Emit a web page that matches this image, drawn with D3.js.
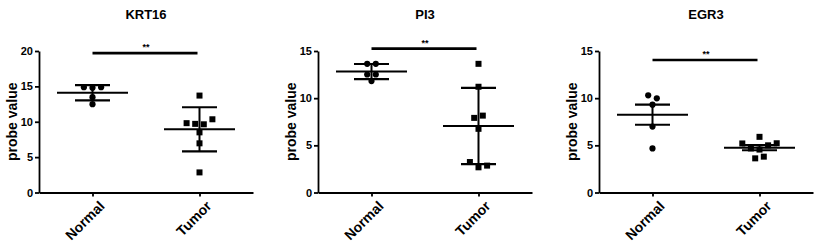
<!DOCTYPE html>
<html lang="en">
<head>
<meta charset="UTF-8">
<title>Probe values</title>
<script src="https://d3js.org/d3.v7.min.js"></script>
<style>
  body { margin: 0; padding: 0; background: #fff; }
  svg { display: block; font-family: "Liberation Sans", Arial, sans-serif; }
  .axis path, .axis line { stroke: #000; stroke-width: 1.8; }
  .axis text { font-size: 11px; font-weight: bold; fill: #000; }
</style>
</head>
<body>
<svg id="chart" width="818" height="245"></svg>
<script>
// values
const groups = ["Normal", "Tumor"];
const titles = ["KRT16", "PI3", "EGR3"];
const yMax = [20, 15, 15];
const yTicks = [[0, 5, 10, 15, 20], [0, 5, 10, 15], [0, 5, 10, 15]];

const krt16Normal = [14.88, 14.8, 14.88, 12.48, 13.47];
const krt16Tumor = [13.7, 9.8, 9.7, 9.64, 10.35, 8.5, 6.95, 2.84];
const pi3Normal = [13.64, 13.64, 12.51, 11.81, 12.51];
const pi3Tumor = [13.64, 11.21, 7.91, 8.15, 6.75, 3.23, 2.67, 2.85];
const egr3Normal = [10.3, 9.98, 9.31, 6.99, 4.67];
const egr3Tumor = [5.2, 4.67, 4.55, 5.0, 5.22, 5.9, 3.62, 3.8];

const errorKind = ["SD", "SD", "SEM"];
const sigLevel = [19.7, 15.25, 14.05];
const sigLabel = ["**", "**", "**"];

const panelData = [
  [krt16Normal, krt16Tumor],
  [pi3Normal, pi3Tumor],
  [egr3Normal, egr3Tumor]
];

const svg = d3.select("#chart");
const panelLeft = [39, 318, 599];
const plotTop = 51, plotBottom = 192.5, plotW = 214;
const slot = 8.6, rowGap = 5.5;

// GraphPad-like scatter: values close in height share a row and spread sideways
function swarm(values, y) {
  const order = d3.range(values.length).sort((a, b) => values[b] - values[a]);
  const rows = [];
  let cur = null, lastY = null;
  order.forEach(i => {
    const py = y(values[i]);
    if (cur && py - lastY <= rowGap) cur.push(i);
    else { cur = [i]; rows.push(cur); }
    lastY = py;
  });
  const off = [];
  rows.forEach(r => {
    r.sort((a, b) => a - b);
    r.forEach((i, k) => off[i] = (k - (r.length - 1) / 2) * slot);
  });
  return off;
}

panelData.forEach((data, p) => {
  const g = svg.append("g").attr("transform", `translate(${panelLeft[p]},0)`);
  const x = d3.scalePoint().domain(groups).range([0, plotW]).padding(0.5);
  const y = d3.scaleLinear().domain([0, yMax[p]]).range([plotBottom, plotTop]);

  g.append("g").attr("class", "axis")
    .call(d3.axisLeft(y).tickValues(yTicks[p]).tickSize(4).tickSizeOuter(0).tickPadding(2));

  const xa = g.append("g").attr("class", "axis")
    .attr("transform", `translate(0,${plotBottom})`)
    .call(d3.axisBottom(x).tickSize(4).tickSizeOuter(0));
  xa.selectAll("text")
    .style("font-size", "14px")
    .attr("text-anchor", "end")
    .attr("dy", "0.35em")
    .attr("transform", "translate(4,6) rotate(-45)");

  g.append("text")
    .attr("x", (x(groups[0]) + x(groups[1])) / 2)
    .attr("y", 18.5)
    .attr("text-anchor", "middle")
    .style("font-size", "13px").style("font-weight", "bold")
    .text(titles[p]);

  g.append("text")
    .attr("transform", `translate(-27,${(plotTop + plotBottom) / 2}) rotate(-90)`)
    .attr("text-anchor", "middle")
    .attr("dy", "0.35em")
    .style("font-size", "14px").style("font-weight", "bold")
    .text("probe value");

  data.forEach((vals, gi) => {
    const cx = x(groups[gi]);
    const m = d3.mean(vals);
    let e = d3.deviation(vals);
    if (errorKind[p] === "SEM") e = e / Math.sqrt(vals.length);

    const off = swarm(vals, y);
    if (gi === 0) {
      g.selectAll(null).data(vals).join("circle")
        .attr("cx", (d, i) => cx + off[i])
        .attr("cy", d => y(d))
        .attr("r", 3.1)
        .attr("fill", "#000");
    } else {
      g.selectAll(null).data(vals).join("rect")
        .attr("x", (d, i) => cx + off[i] - 3)
        .attr("y", d => y(d) - 3)
        .attr("width", 6).attr("height", 6)
        .attr("fill", "#000");
    }

    const ln = (x1, x2, y1, y2, w) => g.append("line")
      .attr("x1", x1).attr("x2", x2).attr("y1", y1).attr("y2", y2)
      .attr("stroke", "#000").attr("stroke-width", w);
    ln(cx - 35.5, cx + 35.5, y(m), y(m), 2);
    ln(cx - 17.5, cx + 17.5, y(m + e), y(m + e), 2.2);
    ln(cx - 17.5, cx + 17.5, y(m - e), y(m - e), 2.2);
    ln(cx, cx, y(m + e), y(m - e), 2);
  });

  const sy = y(sigLevel[p]);
  g.append("line")
    .attr("x1", x(groups[0])).attr("x2", x(groups[1]) - 2)
    .attr("y1", sy).attr("y2", sy)
    .attr("stroke", "#000").attr("stroke-width", 2.6);
  g.append("text")
    .attr("x", (x(groups[0]) + x(groups[1])) / 2)
    .attr("y", sy - 3)
    .attr("text-anchor", "middle")
    .style("font-size", "9px").style("font-weight", "bold")
    .text(sigLabel[p]);
});
</script>
</body>
</html>
